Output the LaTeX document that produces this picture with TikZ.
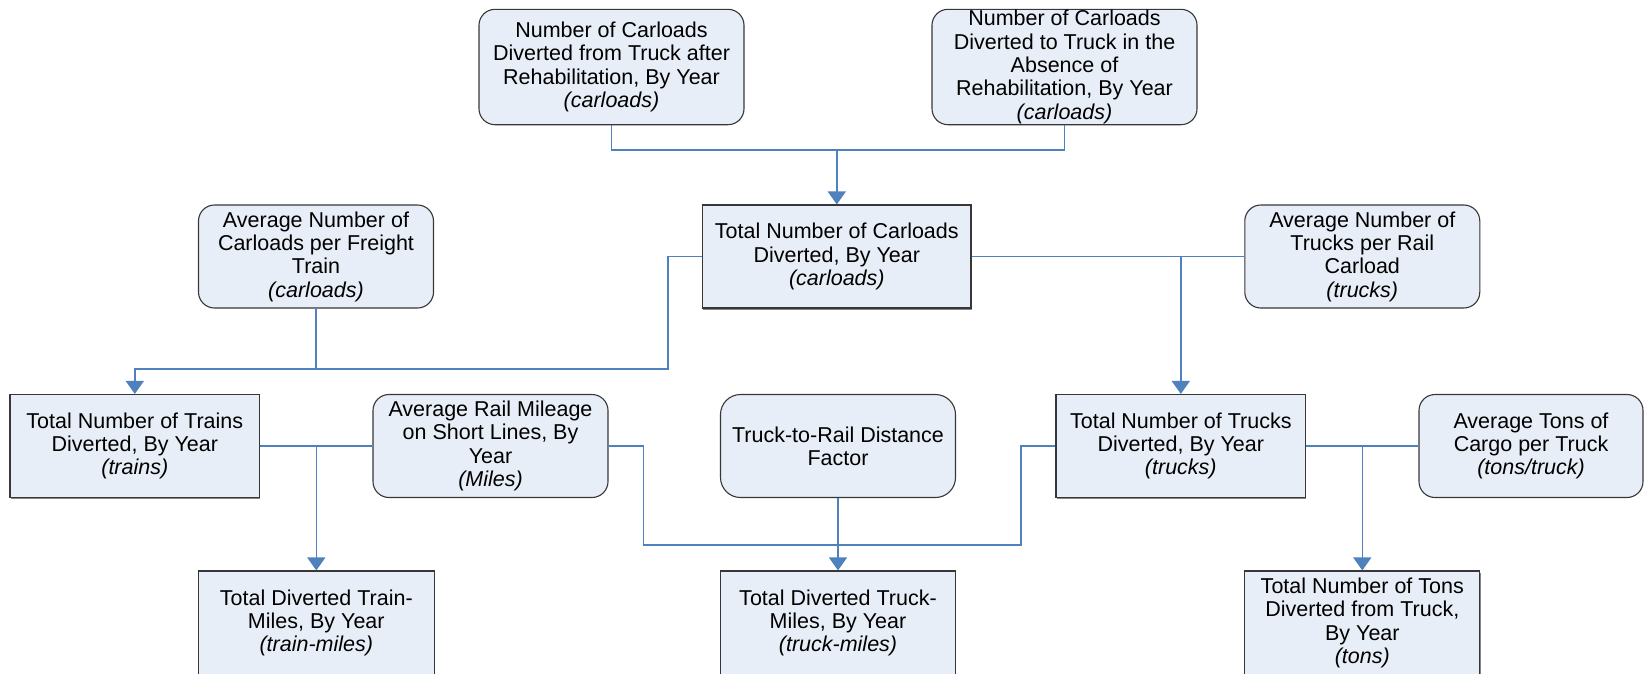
\documentclass[tikz,border=0pt]{standalone}
\usepackage{fontspec}
\setmainfont{Liberation Sans}
\usetikzlibrary{arrows.meta,shadows}
\definecolor{boxfill}{RGB}{232,238,247}
\definecolor{linkblue}{RGB}{79,129,189}
\definecolor{edge}{RGB}{55,55,55}
\tikzset{
  base/.style={draw=edge, line width=1.1pt, fill=boxfill, align=center,
    inner sep=0pt, font=\fontsize{21.5}{23.3}\selectfont},
  rbox/.style={base, rounded corners=16pt},
  sbox/.style={base, drop shadow={shadow xshift=0.8pt, shadow yshift=-1.6pt,
    fill=black!60, opacity=0.8}},
  link/.style={draw=linkblue, line width=1.4pt},
  flow/.style={link, -{Triangle[width=18pt,length=13pt]}},
}
\begin{document}
\begin{tikzpicture}[x=1pt,y=-1pt]
\clip (0,0) rectangle (1647,673);
\useasboundingbox (0,0) rectangle (1647,673);

% top inputs
\node[rbox, minimum width=265, minimum height=115.4] (divfrom) at (611.5,67)
  {Number of Carloads\\Diverted from Truck after\\Rehabilitation, By Year\\\textit{(carloads)}};
\node[rbox, minimum width=265, minimum height=115.4] (divto) at (1064.5,67)
  {Number of Carloads\\Diverted to Truck in the\\Absence of\\Rehabilitation, By Year\\\textit{(carloads)}};

% second row
\node[rbox, minimum width=235, minimum height=103] (carpertrain) at (316,256.5)
  {Average Number of\\Carloads per Freight\\Train\\\textit{(carloads)}};
\node[sbox, minimum width=268.4, minimum height=103] (total) at (836.8,256.5)
  {Total Number of Carloads\\Diverted, By Year\\\textit{(carloads)}};
\node[rbox, minimum width=235, minimum height=103] (truckspercar) at (1362.3,256.5)
  {Average Number of\\Trucks per Rail\\Carload\\\textit{(trucks)}};

% third row
\node[sbox, minimum width=249.6, minimum height=103] (trains) at (134.8,446)
  {Total Number of Trains\\Diverted, By Year\\\textit{(trains)}};
\node[rbox, minimum width=235, minimum height=103] (mileage) at (490.5,446)
  {Average Rail Mileage\\on Short Lines, By\\Year\\\textit{(Miles)}};
\node[rbox, rounded corners=20pt, minimum width=235, minimum height=103] (factor) at (838,446)
  {Truck-to-Rail Distance\\Factor};
\node[sbox, minimum width=249.6, minimum height=103] (trucks) at (1180.8,446)
  {Total Number of Trucks\\Diverted, By Year\\\textit{(trucks)}};
\node[rbox, minimum width=224, minimum height=103] (tonspertruck) at (1531,446)
  {Average Tons of\\Cargo per Truck\\\textit{(tons/truck)}};

% outputs
\node[sbox, minimum width=236, minimum height=104] (trainmiles) at (316.3,623)
  {Total Diverted Train-\\Miles, By Year\\\textit{(train-miles)}};
\node[sbox, minimum width=235, minimum height=104] (truckmiles) at (838,623)
  {Total Diverted Truck-\\Miles, By Year\\\textit{(truck-miles)}};
\node[sbox, minimum width=235, minimum height=104] (tons) at (1362.3,623)
  {Total Number of Tons\\Diverted from Truck,\\By Year\\\textit{(tons)}};

% connectors
\coordinate (topjoin) at (total.north |- 0,150);
\draw[link] (divfrom.south) |- (topjoin) -| (divto.south);
\draw[flow] (topjoin) -- (total.north);

\coordinate (cbend) at (668,369);
\draw[flow] (total.west) -| (cbend) -| (trains.north);
\draw[link] (carpertrain.south) -- (carpertrain.south |- cbend);

\draw[link] (total.east) -- (truckspercar.west);
\draw[flow] (total.east -| trucks.north) -- (trucks.north);

\draw[link] (trains.east) -- (mileage.west);
\draw[flow] (trains.east -| trainmiles.north) -- (trainmiles.north);

\coordinate (lowleft) at (643.5,545);
\coordinate (lowright) at (1021,545);
\draw[link] (mileage.east) -| (lowleft) -- (lowright) |- (trucks.west);
\draw[flow] (factor.south) -- (truckmiles.north);

\draw[link] (trucks.east) -- (tonspertruck.west);
\draw[flow] (trucks.east -| tons.north) -- (tons.north);
\end{tikzpicture}
\end{document}
